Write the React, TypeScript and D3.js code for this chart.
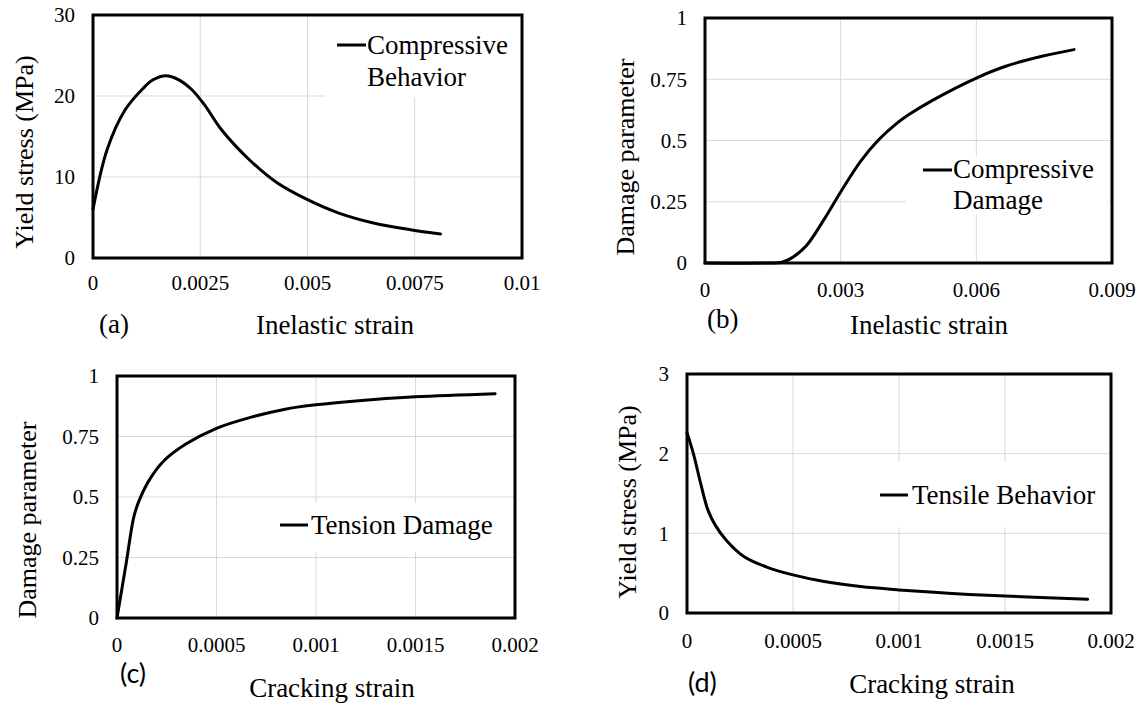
import React from 'react';
import * as d3 from 'd3';

// Panel (a) – compressive behavior
const compStrain = [0, 0.00033, 0.00075, 0.00116, 0.0014, 0.0017, 0.002, 0.0023, 0.0026, 0.003, 0.00365, 0.0043, 0.005, 0.00573, 0.00656, 0.0074, 0.0081];
const compStress = [6.0, 13.4, 18.3, 20.9, 22.0, 22.5, 22.0, 20.8, 18.9, 15.8, 12.1, 9.25, 7.2, 5.55, 4.3, 3.5, 2.96];

// Panel (b) – compressive damage
const compDmgStrain = [0, 0.0014, 0.0017, 0.00191, 0.00223, 0.00263, 0.003, 0.00344, 0.00384, 0.00424, 0.0045, 0.00504, 0.006, 0.00665, 0.00745, 0.00816];
const compDmg = [0, 0, 0.003, 0.02, 0.068, 0.177, 0.29, 0.415, 0.503, 0.57, 0.605, 0.665, 0.755, 0.803, 0.844, 0.871];

// Panel (c) – tension damage
const tenDmgStrain = [0, 0.0000484, 0.000084, 0.000111, 0.000165, 0.000236, 0.000344, 0.0005, 0.000666, 0.000845, 0.001, 0.0012, 0.0015, 0.0019];
const tenDmg = [0, 0.238, 0.416, 0.485, 0.574, 0.65, 0.718, 0.784, 0.828, 0.863, 0.881, 0.897, 0.914, 0.927];

// Panel (d) – tensile behavior
const tenStrain = [0, 0.0000308, 0.000065, 0.0000993, 0.000134, 0.000185, 0.00027, 0.000373, 0.0005, 0.000647, 0.000818, 0.001, 0.00125, 0.0015, 0.00189];
const tenStress = [2.264, 1.994, 1.62, 1.288, 1.1, 0.914, 0.706, 0.58, 0.478, 0.395, 0.332, 0.29, 0.245, 0.212, 0.174];

// Tick values and labels
const ticksXa = [0, 0.0025, 0.005, 0.0075, 0.01];
const labelsXa = ['0', '0.0025', '0.005', '0.0075', '0.01'];
const ticksYa = [0, 10, 20, 30];
const labelsYa = ['0', '10', '20', '30'];

const ticksXb = [0, 0.003, 0.006, 0.009];
const labelsXb = ['0', '0.003', '0.006', '0.009'];
const ticksDmg = [0, 0.25, 0.5, 0.75, 1];
const labelsDmg = ['0', '0.25', '0.5', '0.75', '1'];

const ticksXcd = [0, 0.0005, 0.001, 0.0015, 0.002];
const labelsXcd = ['0', '0.0005', '0.001', '0.0015', '0.002'];
const ticksYd = [0, 1, 2, 3];
const labelsYd = ['0', '1', '2', '3'];

const legendA = ['Compressive', 'Behavior'];
const legendB = ['Compressive', 'Damage'];
const legendC = ['Tension Damage'];
const legendD = ['Tensile Behavior'];

const SERIF = '"Liberation Serif", "Times New Roman", serif';
const SANS = 'Lato, "Open Sans", sans-serif';

type PanelProps = {
  xs: number[]; ys: number[];
  xDomain: [number, number]; yDomain: [number, number];
  xTicks: number[]; xLabels: string[]; yTicks: number[]; yLabels: string[];
  box: { l: number; r: number; t: number; b: number };
  yTitle: string; yTitleX: number; yTitleY: number;
  xTitle: string; xTitleX: number; xTitleY: number;
  tag: string; tagX: number; tagY: number; tagFont: string;
  legend: string[]; legRect: [number, number, number, number];
  legLine: [number, number, number]; legTextX: number; legTextY: number; legLineGap: number;
  xLabelOffset: number;
  curve: d3.CurveFactory;
};

function Panel(p: PanelProps) {
  const x = d3.scaleLinear().domain(p.xDomain).range([p.box.l, p.box.r]);
  const y = d3.scaleLinear().domain(p.yDomain).range([p.box.b, p.box.t]);
  const line = d3.line<number>()
    .x((_, i) => x(p.xs[i]))
    .y((d) => y(d))
    .curve(p.curve);
  const path = line(p.ys) || '';
  return (
    <g>
      {p.xTicks.map((t, i) => (
        <line key={'gx' + i} x1={x(t)} x2={x(t)} y1={p.box.t} y2={p.box.b} stroke="#d9d9d9" strokeWidth={1} />
      ))}
      {p.yTicks.map((t, i) => (
        <line key={'gy' + i} x1={p.box.l} x2={p.box.r} y1={y(t)} y2={y(t)} stroke="#d9d9d9" strokeWidth={1} />
      ))}
      <rect x={p.legRect[0]} y={p.legRect[1]} width={p.legRect[2]} height={p.legRect[3]} fill="#fff" />
      <path d={path} fill="none" stroke="#000" strokeWidth={3} strokeLinejoin="round" strokeLinecap="round" />
      <rect x={p.box.l} y={p.box.t} width={p.box.r - p.box.l} height={p.box.b - p.box.t} fill="none" stroke="#000" strokeWidth={3} />
      {p.xTicks.map((t, i) => (
        <text key={'tx' + i} x={x(t)} y={p.box.b + p.xLabelOffset} textAnchor="middle" fontFamily={SERIF} fontSize={21} fill="#000">{p.xLabels[i]}</text>
      ))}
      {p.yTicks.map((t, i) => (
        <text key={'ty' + i} x={p.box.l - 18} y={y(t)} dy="0.35em" textAnchor="end" fontFamily={SERIF} fontSize={21} fill="#000">{p.yLabels[i]}</text>
      ))}
      <text transform={`translate(${p.yTitleX},${p.yTitleY}) rotate(-90)`} textAnchor="middle" dy="0.35em" fontFamily={SERIF} fontSize={26} fill="#000">{p.yTitle}</text>
      <text x={p.xTitleX} y={p.xTitleY} textAnchor="middle" fontFamily={SERIF} fontSize={27} fill="#000">{p.xTitle}</text>
      <text x={p.tagX} y={p.tagY} fontFamily={p.tagFont} fontSize={27} fill="#000">{p.tag}</text>
      <line x1={p.legLine[0]} x2={p.legLine[1]} y1={p.legLine[2]} y2={p.legLine[2]} stroke="#000" strokeWidth={3} />
      {p.legend.map((s, i) => (
        <text key={'lg' + i} x={p.legTextX} y={p.legTextY + i * p.legLineGap} fontFamily={SERIF} fontSize={27} fill="#000">{s}</text>
      ))}
    </g>
  );
}

export default function App() {
  const smooth = d3.curveCatmullRom.alpha(0.5);
  return (
    <svg width={1140} height={706} style={{ position: 'absolute', left: 0, top: 0, background: '#fff' }}>
      <rect width={1140} height={706} fill="#fff" />
      <Panel xs={compStrain} ys={compStress} xDomain={[0, 0.01]} yDomain={[0, 30]}
        xTicks={ticksXa} xLabels={labelsXa} yTicks={ticksYa} yLabels={labelsYa}
        box={{ l: 93, r: 522, t: 15, b: 258 }}
        yTitle="Yield stress (MPa)" yTitleX={24} yTitleY={152}
        xTitle="Inelastic strain" xTitleX={335} xTitleY={334}
        tag="(a)" tagX={99} tagY={333} tagFont={SERIF}
        legend={legendA} legRect={[325, 17, 195, 80]} legLine={[337, 366, 45]} legTextX={367} legTextY={54} legLineGap={32}
        xLabelOffset={32} curve={smooth} />
      <Panel xs={compDmgStrain} ys={compDmg} xDomain={[0, 0.009]} yDomain={[0, 1]}
        xTicks={ticksXb} xLabels={labelsXb} yTicks={ticksDmg} yLabels={labelsDmg}
        box={{ l: 705, r: 1112, t: 18, b: 263 }}
        yTitle="Damage parameter" yTitleX={625} yTitleY={157}
        xTitle="Inelastic strain" xTitleX={929} xTitleY={334}
        tag="(b)" tagX={707} tagY={328} tagFont={SERIF}
        legend={legendB} legRect={[906, 157, 203, 58]} legLine={[923, 952, 170]} legTextX={953} legTextY={178} legLineGap={31}
        xLabelOffset={34} curve={smooth} />
      <Panel xs={tenDmgStrain} ys={tenDmg} xDomain={[0, 0.002]} yDomain={[0, 1]}
        xTicks={ticksXcd} xLabels={labelsXcd} yTicks={ticksDmg} yLabels={labelsDmg}
        box={{ l: 117, r: 515, t: 376, b: 618 }}
        yTitle="Damage parameter" yTitleX={27} yTitleY={520}
        xTitle="Cracking strain" xTitleX={332} xTitleY={697}
        tag="(c)" tagX={120} tagY={683} tagFont={SANS}
        legend={legendC} legRect={[270, 503, 235, 49]} legLine={[280, 308, 525]} legTextX={311} legTextY={534} legLineGap={31}
        xLabelOffset={34} curve={smooth} />
      <Panel xs={tenStrain} ys={tenStress} xDomain={[0, 0.002]} yDomain={[0, 3]}
        xTicks={ticksXcd} xLabels={labelsXcd} yTicks={ticksYd} yLabels={labelsYd}
        box={{ l: 687, r: 1111, t: 374, b: 613 }}
        yTitle="Yield stress (MPa)" yTitleX={627} yTitleY={502}
        xTitle="Cracking strain" xTitleX={932} xTitleY={693}
        tag="(d)" tagX={688} tagY={692} tagFont={SANS}
        legend={legendD} legRect={[870, 462, 235, 65]} legLine={[880, 908, 495]} legTextX={912} legTextY={504} legLineGap={31}
        xLabelOffset={35} curve={smooth} />
    </svg>
  );
}
